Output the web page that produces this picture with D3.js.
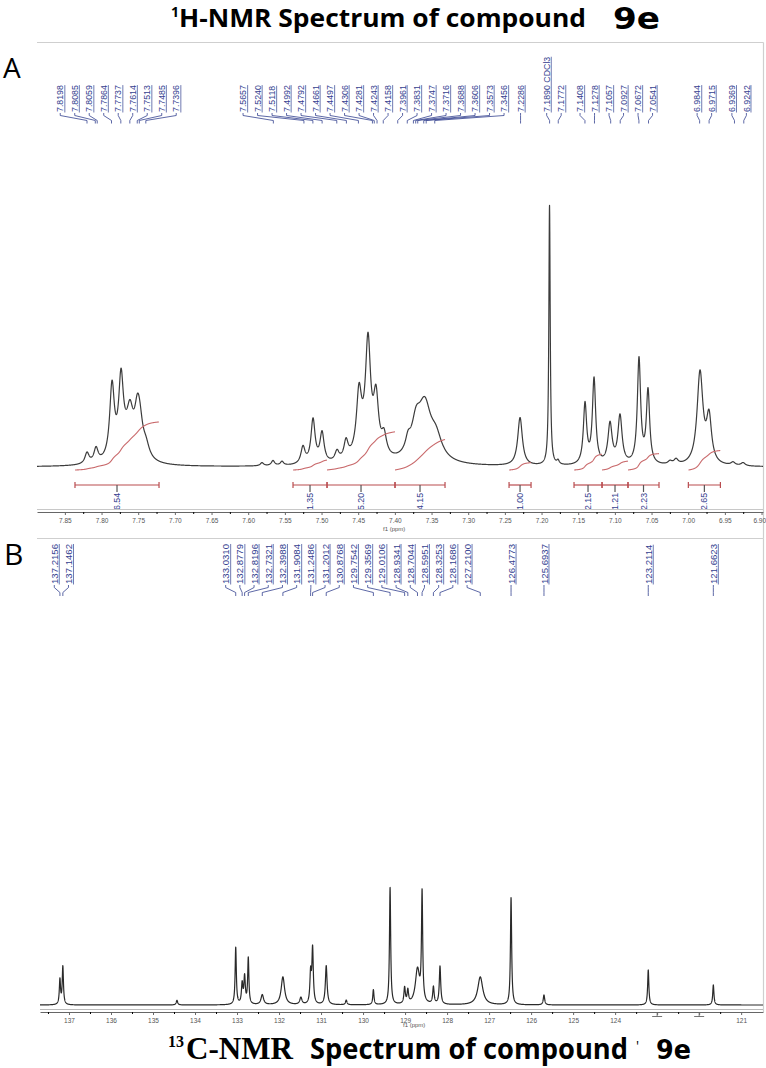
<!DOCTYPE html>
<html>
<head>
<meta charset="utf-8">
<script src="https://cdn.jsdelivr.net/npm/d3@7"></script>
<style>
  body { margin: 0; background: #fff; }
  text { font-family: "Liberation Sans", Arial, sans-serif; }
</style>
</head>
<body>
<div id="chart"></div>
<script>
// ---- 1H spectrum: peaks (ppm, height in % of the CDCl3 line, half width in ppm)
const hPeakPpm = [7.8198, 7.8075, 7.7857, 7.7734, 7.7612, 7.7510, 7.7475, 7.7394, 7.7639,
    7.5812, 7.5662, 7.5539, 7.5253, 7.5116, 7.4993,
    7.4789, 7.4666, 7.4489, 7.4366, 7.4257, 7.4148, 7.4407,
    7.3821, 7.3712, 7.3589, 7.3439, 7.3630,
    7.2293, 7.1891, 7.1775,
    7.1407, 7.1284, 7.1066, 7.0930, 7.0671, 7.0548, 7.0248, 7.0166,
    6.9839, 6.9716, 6.9389, 6.9252];
const hPeakHeight = [4.2, 5.4, 27.7, 27.7, 11.5, 14.6, 8.5, 4.6, 7.7,
    1.2, 1.9, 1.5, 6.5, 16.9, 11.5,
    3.8, 6.9, 22.3, 40.4, 21.2, 7.7, 5.8,
    4.6, 9.6, 14.6, 7.7, 7.7,
    18.5, 100, 1.5,
    23.1, 32.7, 15.4, 18.5, 40.4, 28.1, 1.2, 1.9,
    35.4, 17.3, 1.2, 1.2];
const hPeakWidth = [0.0034, 0.0034, 0.0038, 0.0038, 0.0048, 0.0048, 0.0048, 0.0055, 0.0136,
    0.0027, 0.0027, 0.0027, 0.0034, 0.0034, 0.0034,
    0.0034, 0.0034, 0.0041, 0.0041, 0.0041, 0.0041, 0.0136,
    0.0041, 0.0068, 0.0095, 0.0095, 0.0164,
    0.0038, 0.0011, 0.0020,
    0.0027, 0.0027, 0.0034, 0.0034, 0.0027, 0.0027, 0.0034, 0.0034,
    0.0048, 0.0041, 0.0034, 0.0034];

const hLabels = ["7.8198", "7.8085", "7.8059", "7.7864", "7.7737", "7.7614", "7.7513", "7.7485", "7.7396",
    "7.5657", "7.5240", "7.5118", "7.4992", "7.4792", "7.4661", "7.4497", "7.4306", "7.4281", "7.4243",
    "7.4158", "7.3961", "7.3831", "7.3747", "7.3716", "7.3688", "7.3606", "7.3573", "7.3456",
    "7.2286", "7.1890 CDCl3", "7.1772", "7.1408", "7.1278", "7.1057", "7.0927", "7.0672", "7.0541",
    "6.9844", "6.9715", "6.9369", "6.9242"];

const hIntegralValues = ["6.54", "1.35", "5.20", "4.15", "1.00", "2.15", "1.21", "2.23", "2.65"];
const hIntegralFrom = [7.8362, 7.5389, 7.4925, 7.3998, 7.2443, 7.1557, 7.1175, 7.0821, 6.9998];
const hIntegralTo   = [7.7216, 7.4925, 7.3998, 7.3316, 7.2143, 7.1175, 7.0821, 7.0398, 6.9561];

const hTickLabels = [7.85, 7.80, 7.75, 7.70, 7.65, 7.60, 7.55, 7.50, 7.45, 7.40,
    7.35, 7.30, 7.25, 7.20, 7.15, 7.10, 7.05, 7.00, 6.95, 6.90];

// ---- 13C spectrum
const cPeakPpm = [137.2156, 137.1462, 134.43, 133.0310, 132.8779, 132.8196, 132.7321, 132.3988, 131.9084,
    131.48, 131.2486, 131.2012, 130.8768, 130.40, 129.7542, 129.3569, 129.0106, 128.9341, 128.7044,
    128.5951, 128.3253, 128.1686, 127.2100, 126.4773, 125.6937, 123.2114, 121.6623];
const cPeakHeight = [21.4, 32.5, 4, 48.7, 17.1, 23.1, 39.3, 8.5, 23.9,
    6, 25.6, 47, 33.3, 4, 12.8, 100, 13.7, 11.1, 29.9,
    92, 14.5, 32.5, 23.9, 91.5, 8.5, 29.9, 17.1];
const cPeakWidth = [0.017, 0.017, 0.02, 0.017, 0.02, 0.02, 0.017, 0.036, 0.048,
    0.03, 0.02, 0.02, 0.024, 0.02, 0.017, 0.017, 0.02, 0.02, 0.06,
    0.017, 0.02, 0.02, 0.071, 0.017, 0.02, 0.017, 0.017];

const cLabels = ["137.2156", "137.1462", "133.0310", "132.8779", "132.8196", "132.7321", "132.3988",
    "131.9084", "131.2486", "131.2012", "130.8768", "129.7542", "129.3569", "129.0106", "128.9341",
    "128.7044", "128.5951", "128.3253", "128.1686", "127.2100", "126.4773", "125.6937", "123.2114", "121.6623"];

const cTickLabels = [137, 136, 135, 134, 133, 132, 131, 130, 129, 128, 127, 126, 125, 124, 123, 122, 121];
const cBlankTicks = [123, 122];

// ---- helpers
function lorentz(x, c, h, w) {
    var d = (x - c) / w;
    return h / (1 + d * d);
}

function buildTrace(domain, n, ppm, height, width) {
    var lo = d3.min(domain), hi = d3.max(domain);
    var xs = d3.range(n + 1).map(function(i) { return lo + (hi - lo) * i / n; })
        .concat(ppm.filter(function(p) { return p > lo && p < hi; }))
        .sort(d3.ascending);
    return xs.map(function(x) {
        return { ppm: x, y: d3.sum(ppm, function(c, i) { return lorentz(x, c, height[i], width[i]); }) };
    });
}

// spread labels evenly (gap apart); neighbouring groups closer than mergeGap join one group
function spreadLabels(targets, gap, mergeGap) {
    var clusters = targets.map(function(t, i) { return { members: [i], sum: t }; });
    function span(c) {
        var n = c.members.length, mid = c.sum / n;
        return [mid - (n - 1) * gap / 2, mid + (n - 1) * gap / 2];
    }
    var changed = true;
    while (changed) {
        changed = false;
        for (let k = 0; k < clusters.length - 1; k++) {
            var a = span(clusters[k]), b = span(clusters[k + 1]);
            if (b[0] - a[1] < mergeGap) {
                clusters[k].members = clusters[k].members.concat(clusters[k + 1].members);
                clusters[k].sum += clusters[k + 1].sum;
                clusters.splice(k + 1, 1);
                changed = true;
                break;
            }
        }
    }
    var out = [];
    clusters.forEach(function(c) {
        var s = span(c);
        c.members.forEach(function(m, j) { out[m] = s[0] + j * gap; });
    });
    return out;
}

const labelBlue = "#34418f";
const frameGrey = "#cfcfcf";
const integralRed = "#b94c4f";

const svg = d3.select("#chart")
    .append("svg")
    .attr("width", 766)
    .attr("height", 1068);

// ---- titles
svg.append("text").attr("x", 171).attr("y", 17)
    .style("font-family", "Open Sans").style("font-weight", 700).style("font-size", "14px")
    .text("1");
svg.append("text").attr("x", 179).attr("y", 27)
    .style("font-family", "Open Sans").style("font-weight", 700).style("font-size", "25px")
    .attr("textLength", 407).attr("lengthAdjust", "spacingAndGlyphs")
    .text("H-NMR Spectrum of compound");
svg.append("text").attr("x", 613).attr("y", 28.5)
    .style("font-family", "DejaVu Sans").style("font-weight", 700).style("font-size", "30px")
    .attr("textLength", 47).attr("lengthAdjust", "spacingAndGlyphs")
    .text("9e");

svg.append("text").attr("x", 168).attr("y", 1047)
    .style("font-family", "Liberation Serif").style("font-weight", 700).style("font-size", "16px")
    .text("13");
svg.append("text").attr("x", 186).attr("y", 1059)
    .style("font-family", "Liberation Serif").style("font-weight", 700).style("font-size", "31px")
    .attr("textLength", 107).attr("lengthAdjust", "spacingAndGlyphs")
    .text("C-NMR");
svg.append("text").attr("x", 310).attr("y", 1059)
    .style("font-family", "Open Sans").style("font-weight", 700).style("font-size", "28px")
    .attr("textLength", 318).attr("lengthAdjust", "spacingAndGlyphs")
    .text("Spectrum of compound");
svg.append("text").attr("x", 636).attr("y", 1051)
    .style("font-family", "Open Sans").style("font-size", "14px")
    .text("'");
svg.append("text").attr("x", 656).attr("y", 1059)
    .style("font-family", "DejaVu Sans").style("font-weight", 700).style("font-size", "26px")
    .attr("textLength", 35).attr("lengthAdjust", "spacingAndGlyphs")
    .text("9e");

svg.append("text").attr("x", 3).attr("y", 78)
    .style("font-family", "Open Sans").style("font-size", "28px").text("A");
svg.append("text").attr("x", 4).attr("y", 565)
    .style("font-family", "Open Sans").style("font-size", "30px").text("B");

// ---- frames
[[37, 42.5, 763.5, 42.5], [763.5, 42.5, 763.5, 538.5], [37, 538.5, 763.5, 538.5], [763.5, 538.5, 763.5, 1012]]
    .forEach(function(l) {
        svg.append("line").attr("x1", l[0]).attr("y1", l[1]).attr("x2", l[2]).attr("y2", l[3])
            .attr("stroke", frameGrey).attr("stroke-width", 1.2);
    });

// ================= 1H panel =================
const hX = d3.scaleLinear().domain([7.888, 6.898]).range([37, 763]);
const hY = d3.scaleLinear().domain([0, 100]).range([467, 207]);
const hInt = d3.scaleLinear().domain([0, 10]).range([470, 396.5]);

const hTrace = buildTrace(hX.domain(), 6000, hPeakPpm, hPeakHeight, hPeakWidth);

svg.append("path")
    .datum(hTrace)
    .attr("fill", "none")
    .attr("stroke", "#3c3c3c")
    .attr("stroke-width", 1.2)
    .attr("stroke-linejoin", "round")
    .attr("d", d3.line().x(function(d) { return hX(d.ppm); }).y(function(d) { return hY(d.y); }));

// integral curves and bars
hIntegralValues.forEach(function(v, i) {
    var pts = hTrace.filter(function(d) { return d.ppm <= hIntegralFrom[i] && d.ppm >= hIntegralTo[i]; })
        .sort(function(a, b) { return b.ppm - a.ppm; });
    var cum = 0, cs = [0];
    for (let k = 1; k < pts.length; k++) {
        cum += (pts[k].y + pts[k - 1].y) / 2 * (pts[k - 1].ppm - pts[k].ppm);
        cs.push(cum);
    }
    svg.append("path")
        .datum(pts)
        .attr("fill", "none")
        .attr("stroke", "#c96a6c")
        .attr("stroke-width", 1.1)
        .attr("d", d3.line()
            .x(function(d) { return hX(d.ppm); })
            .y(function(d, k) { return hInt(cs[k] / cum * +v); }));

    var x1 = hX(hIntegralFrom[i]), x2 = hX(hIntegralTo[i]), xm = (x1 + x2) / 2;
    var bar = svg.append("g").attr("stroke", integralRed).attr("stroke-width", 1.2);
    bar.append("line").attr("x1", x1).attr("x2", x2).attr("y1", 485).attr("y2", 485);
    bar.append("line").attr("x1", x1).attr("x2", x1).attr("y1", 482).attr("y2", 488);
    bar.append("line").attr("x1", x2).attr("x2", x2).attr("y1", 482).attr("y2", 488);
    bar.append("line").attr("x1", xm).attr("x2", xm).attr("y1", 485).attr("y2", 492)
        .attr("stroke", "#555");
    svg.append("text")
        .attr("transform", "translate(" + (xm + 3) + ",510) rotate(-90)")
        .style("font-size", "8.8px")
        .attr("fill", labelBlue)
        .text(v);
});

// axis
svg.append("line").attr("x1", 37).attr("x2", 763).attr("y1", 509.5).attr("y2", 509.5)
    .attr("stroke", "#c8c8c8");
const hAxis = svg.append("g")
    .attr("transform", "translate(0,512)")
    .call(d3.axisBottom(hX).tickValues(hTickLabels).tickFormat(d3.format(".2f"))
        .tickSize(3).tickSizeOuter(0).tickPadding(3));
svg.append("g")
    .attr("transform", "translate(0,512)")
    .call(d3.axisBottom(hX).tickValues(hTickLabels.map(function(t) { return t - 0.025; }).filter(function(t) { return t > 6.898; }))
        .tickFormat("").tickSize(2).tickSizeOuter(0))
    .select(".domain").remove();
svg.append("text").attr("x", 383).attr("y", 531)
    .style("font-size", "6px").attr("fill", "#555").text("f1 (ppm)");

// peak labels
var hTargets = hLabels.map(function(t) { return hX(parseFloat(t)); });
var hLabelX = spreadLabels(hTargets, 14.5, 14.5);
hLabels.forEach(function(t, i) {
    var lx = hLabelX[i], px = hTargets[i];
    var txt = svg.append("text")
        .attr("transform", "translate(" + (lx + 3.2) + ",112) rotate(-90)")
        .style("font-size", "8.8px")
        .attr("fill", labelBlue)
        .text(t);
    var len = txt.node().getComputedTextLength();
    svg.append("line").attr("x1", lx + 4.6).attr("x2", lx + 4.6).attr("y1", 112.5).attr("y2", 112 - len)
        .attr("stroke", labelBlue).attr("stroke-width", 0.7);
    svg.append("path")
        .attr("d", "M" + lx + ",113 L" + lx + ",115.5 L" + px + ",120.5 L" + px + ",123.5")
        .attr("fill", "none")
        .attr("stroke", labelBlue)
        .attr("stroke-width", 0.8);
});

// ================= 13C panel =================
const cX = d3.scaleLinear().domain([137.69, 120.48]).range([40, 763]);
const cY = d3.scaleLinear().domain([0, 100]).range([1005, 888]);

const cTrace = buildTrace(cX.domain(), 9000, cPeakPpm, cPeakHeight, cPeakWidth);

svg.append("path")
    .datum(cTrace)
    .attr("fill", "none")
    .attr("stroke", "#2a2a2a")
    .attr("stroke-width", 1.2)
    .attr("stroke-linejoin", "round")
    .attr("d", d3.line().x(function(d) { return cX(d.ppm); }).y(function(d) { return cY(d.y); }));

svg.append("line").attr("x1", 40).attr("x2", 763).attr("y1", 1009.5).attr("y2", 1009.5)
    .attr("stroke", "#b8b8b8");
const cAxis = svg.append("g")
    .attr("transform", "translate(0,1012)")
    .call(d3.axisBottom(cX).tickValues(cTickLabels)
        .tickFormat(function(d) { return cBlankTicks.indexOf(d) >= 0 ? "" : d3.format("d")(d); })
        .tickSize(3).tickSizeOuter(0).tickPadding(3));
svg.append("g")
    .attr("transform", "translate(0,1012)")
    .call(d3.axisBottom(cX).tickValues(cTickLabels.map(function(t) { return t + 0.5; }).filter(function(t) { return t < 137.69; }))
        .tickFormat("").tickSize(2).tickSizeOuter(0))
    .select(".domain").remove();
// the two odd marks standing in place of labels 123 and 122
cBlankTicks.forEach(function(t) {
    var x = cX(t);
    svg.append("path")
        .attr("d", "M" + (x - 5) + ",1016.5 H" + (x + 5) + " M" + x + ",1012 V1016.5")
        .attr("stroke", "#666").attr("stroke-width", 0.9).attr("fill", "none");
});
svg.append("text").attr("x", 403).attr("y", 1027)
    .style("font-size", "6px").attr("fill", "#555").text("f1 (ppm)");

[hAxis, cAxis].forEach(function(ax) {
    ax.select(".domain").attr("stroke", "#666");
    ax.selectAll("line").attr("stroke", "#666");
    ax.selectAll("text").style("font-size", "6.5px").attr("fill", "#555");
});
// last 1H tick label sits against the right edge
hAxis.selectAll(".tick text").filter(function(d) { return d === 6.90; })
    .attr("text-anchor", "end").attr("dx", 4);

var cTargets = cLabels.map(function(t) { return cX(parseFloat(t)); });
var cLabelX = spreadLabels(cTargets, 14.2, 32.7);
cLabels.forEach(function(t, i) {
    var lx = cLabelX[i], px = cTargets[i];
    var txt = svg.append("text")
        .attr("transform", "translate(" + (lx + 3.6) + ",584) rotate(-90)")
        .style("font-size", "9.6px")
        .attr("fill", labelBlue)
        .text(t);
    var len = txt.node().getComputedTextLength();
    svg.append("line").attr("x1", lx + 5).attr("x2", lx + 5).attr("y1", 584.5).attr("y2", 584 - len)
        .attr("stroke", labelBlue).attr("stroke-width", 0.7);
    svg.append("path")
        .attr("d", "M" + lx + ",585 L" + lx + ",587.5 L" + px + ",592.5 L" + px + ",596")
        .attr("fill", "none")
        .attr("stroke", labelBlue)
        .attr("stroke-width", 0.8);
});
</script>
</body>
</html>
